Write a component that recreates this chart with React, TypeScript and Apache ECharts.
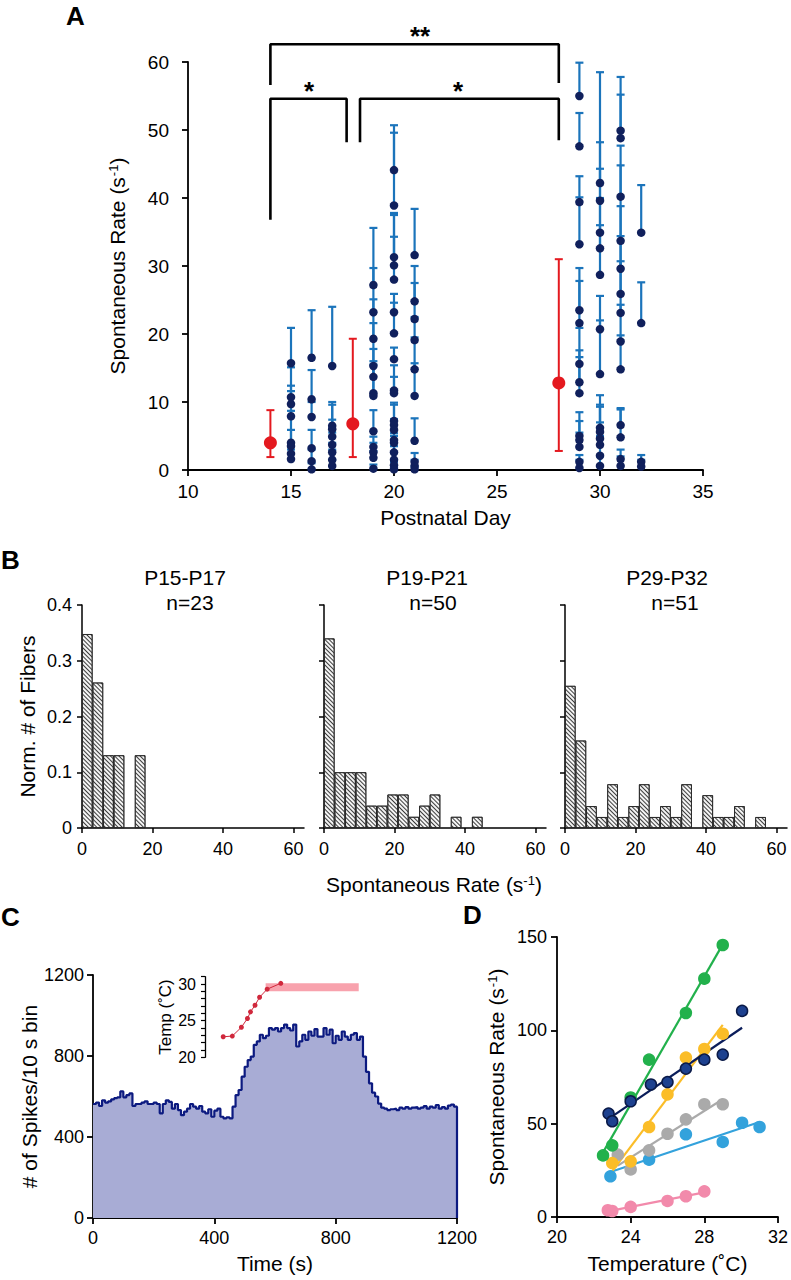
import React, { useEffect, useRef } from 'react';
import * as echarts from 'echarts';

const FONT = '"Liberation Sans", Arial, Helvetica, sans-serif';
const BLUE = '#1b74bb';
const NAVY_PT = '#10205c';
const RED = '#e4191f';

// ---------- Panel A ----------
const xTicksA = [10, 15, 20, 25, 30, 35];
const redDays = [14, 18, 28];
const redMeans = [4.0, 6.8, 12.8];
const redLow = [1.9, 1.9, 2.8];
const redHigh = [8.8, 19.3, 31.0];

// [postnatal day, rate, mean + SD]
const fibersP15to17 = [
  [15, 15.7, 20.9], [15, 10.7, 15.1], [15, 9.7, 12.4], [15, 7.9, 11.6], [15, 4.0, 8.7], [15, 3.5, 5.9], [15, 2.4, 4.0], [15, 1.6, 3.0],
  [16, 16.5, 23.5], [16, 10.4, 14.7], [16, 7.8, 10.0], [16, 3.2, 5.9], [16, 1.3, 3.0], [16, 0.1, 1.0],
  [17, 15.3, 24.0], [17, 6.5, 10.0], [17, 6.0, 9.6], [17, 4.9, 7.4], [17, 3.7, 5.5], [17, 2.6, 4.0], [17, 1.5, 3.0], [17, 0.6, 1.5],
];
const fibersP19to21 = [
  [19, 27.2, 35.6], [19, 23.2, 29.7], [19, 19.3, 25.1], [19, 15.3, 21.6], [19, 13.7, 17.8], [19, 11.3, 16.0], [19, 10.9, 15.5], [19, 5.7, 8.8], [19, 3.4, 4.9], [19, 2.6, 4.0], [19, 1.8, 2.8], [19, 0.2, 0.8],
  [20, 44.1, 50.7], [20, 38.9, 49.6], [20, 31.3, 37.8], [20, 30.1, 37.5], [20, 28.0, 34.3], [20, 23.2, 25.9], [20, 20.1, 24.6], [20, 16.3, 18.0], [20, 11.7, 15.4], [20, 11.3, 13.7], [20, 7.2, 9.9], [20, 6.6, 9.6], [20, 5.9, 7.5], [20, 4.4, 5.4], [20, 4.0, 5.0], [20, 2.6, 3.5], [20, 1.5, 2.5], [20, 0.7, 1.2], [20, 0.1, 0.5],
  [21, 31.6, 38.4], [21, 24.8, 30.0], [21, 22.2, 27.5], [21, 19.1, 22.5], [21, 14.8, 19.5], [21, 10.9, 15.7], [21, 4.3, 7.6], [21, 1.2, 2.5], [21, 0.6, 1.5], [21, 0.1, 0.5],
];
const fibersP29to32 = [
  [29, 55.0, 59.9], [29, 47.6, 52.5], [29, 39.4, 43.2], [29, 33.2, 40.1], [29, 23.5, 29.7], [29, 21.6, 27.8], [29, 15.6, 20.9], [29, 12.9, 17.6], [29, 11.3, 16.6], [29, 5.0, 8.5], [29, 4.4, 7.2], [29, 3.4, 5.5], [29, 1.2, 2.2], [29, 0.3, 1.5],
  [30, 42.2, 58.5], [30, 39.6, 48.2], [30, 34.9, 44.3], [30, 32.6, 40.0], [30, 28.7, 36.0], [30, 20.7, 25.6], [30, 14.1, 22.0], [30, 6.2, 11.0], [30, 5.6, 9.6], [30, 4.6, 9.3], [30, 3.7, 7.0], [30, 2.1, 5.0], [30, 0.6, 2.0],
  [31, 49.9, 57.8], [31, 48.8, 55.2], [31, 40.2, 47.7], [31, 33.7, 44.8], [31, 29.6, 38.8], [31, 25.9, 34.4], [31, 23.1, 30.7], [31, 18.9, 24.3], [31, 14.8, 19.8], [31, 6.6, 9.1], [31, 4.8, 8.9], [31, 1.6, 3.0], [31, 0.6, 2.0],
  [32, 34.9, 41.9], [32, 21.6, 27.6], [32, 1.2, 2.2], [32, 0.5, 1.5],
];
// significance brackets, in axis units [day, rate]
const bracketAll = [[14, 56.6], [14, 62.6], [28, 62.6], [28, 56.9]];
const bracketEarly = [[14, 36.8], [14, 54.6], [17.7, 54.6], [17.7, 48.2]];
const bracketLate = [[18.35, 48.2], [18.35, 54.6], [28, 54.6], [28, 48.5]];

// ---------- Panel B ----------
const histBinWidth = 3;
const histTitles = ['P15-P17', 'P19-P21', 'P29-P32'];
const countsP15to17 = [8, 6, 3, 3, 0, 3];
const countsP19to21 = [17, 5, 5, 5, 2, 2, 3, 3, 1, 2, 3, 0, 1, 0, 1];
const countsP29to32 = [13, 8, 2, 1, 4, 1, 2, 4, 1, 2, 1, 4, 0, 3, 1, 1, 2, 0, 1];
const histXTicks = [0, 20, 40, 60];

// ---------- Panel C ----------
const spikeBinSec = 10;
const spikeCounts = [
  563, 570, 553, 581, 570, 576, 586, 592, 596, 625,
  596, 607, 615, 553, 563, 563, 570, 576, 563, 563,
  570, 563, 517, 563, 581, 573, 540, 563, 533, 508,
  525, 540, 563, 550, 540, 553, 525, 517, 537, 500,
  530, 540, 500, 492, 497, 492, 550, 607, 632, 698,
  747, 780, 797, 855, 872, 905, 888, 900, 938, 930,
  938, 921, 938, 955, 938, 926, 955, 847, 872, 905,
  880, 921, 900, 933, 896, 896, 938, 905, 930, 863,
  900, 880, 921, 896, 880, 905, 913, 880, 896, 797,
  722, 665, 619, 600, 565, 545, 540, 533, 537, 540,
  533, 545, 540, 548, 540, 545, 548, 540, 545, 552,
  540, 550, 545, 558, 540, 548, 540, 555, 560, 550,
];
const tempTimes = [430, 460, 490, 510, 520, 535, 550, 575, 620];
const tempValues = [22.8, 22.9, 24.1, 25.3, 26.2, 27.1, 28.2, 29.3, 30.1];
const heatStart = 570;
const heatEnd = 877;
const heatLow = 29.0;
const heatHigh = 30.1;
const insetTicks = [20, 21, 22, 23, 24, 25, 26, 27, 28, 29, 30, 31];
const insetLabels = [20, 25, 30];

// ---------- Panel D ----------
const greenT = [22.5, 23.0, 24.0, 25.0, 27.0, 28.0, 29.0];
const greenR = [33, 38.4, 64, 84.3, 109.3, 127.7, 145.7];
const navyT = [22.8, 23.0, 24.0, 25.1, 26.0, 27.0, 28.0, 29.0, 30.05];
const navyR = [55.4, 51.3, 62, 71, 72.3, 79.5, 84.3, 87, 110.4];
const yellowT = [23.0, 24.0, 25.0, 26.0, 27.0, 28.0, 29.0];
const yellowR = [28.9, 29.8, 48.2, 65.7, 85.4, 90, 98.2];
const grayT = [23.3, 24.0, 25.0, 26.0, 27.0, 28.0, 29.0];
const grayR = [33.4, 25.5, 35.7, 44.6, 52.3, 60.4, 60.4];
const cyanT = [22.9, 25.0, 27.0, 29.0, 30.05, 31.0];
const cyanR = [21.8, 30.7, 44.3, 40.2, 50.5, 48.2];
const pinkT = [22.76, 23.0, 24.0, 26.0, 27.0, 28.0];
const pinkR = [3.6, 3.2, 5.4, 8.6, 11.1, 13.75];

function fitLine(xs: number[], ys: number[]) {
  const n = xs.length;
  const mx = xs.reduce((a, b) => a + b, 0) / n;
  const my = ys.reduce((a, b) => a + b, 0) / n;
  let sxy = 0, sxx = 0;
  for (let i = 0; i < n; i++) { sxy += (xs[i] - mx) * (ys[i] - my); sxx += (xs[i] - mx) ** 2; }
  const b = sxy / sxx;
  const a = my - b * mx;
  const x0 = Math.min(...xs), x1 = Math.max(...xs);
  return [[x0, a + b * x0], [x1, a + b * x1]];
}

const LABEL = { color: '#000', fontSize: 18, fontFamily: FONT };
const TITLE = { color: '#000', fontSize: 21, fontFamily: FONT };
const supRich = { sup: { fontSize: 13, verticalAlign: 'top', color: '#000', fontFamily: FONT, padding: [0, 0, 0, 1] } };
const plain = (v: number) => String(v);

function axis(gridIndex: number, extra: any) {
  const { axisLabel, axisTick, axisLine, nameTextStyle, ...rest } = extra;
  return {
    type: 'value',
    gridIndex,
    splitLine: { show: false },
    axisLine: { show: true, onZero: false, lineStyle: { color: '#000', width: 1.8 }, ...(axisLine || {}) },
    axisTick: { show: true, inside: false, length: 6, lineStyle: { color: '#000', width: 1.8 }, ...(axisTick || {}) },
    axisLabel: { ...LABEL, formatter: plain, ...(axisLabel || {}) },
    nameLocation: 'middle',
    nameTextStyle: { ...TITLE, rich: supRich, ...(nameTextStyle || {}) },
    ...rest,
  };
}

function buildOption() {
  const errBarRender = (params: any, api: any) => {
    const x = api.value(0), y = api.value(1), hi = api.value(2);
    const p0 = api.coord([x, y]);
    const p1 = api.coord([x, hi]);
    return {
      type: 'group',
      children: [
        { type: 'line', shape: { x1: p0[0], y1: p0[1], x2: p1[0], y2: p1[1] }, style: { stroke: BLUE, lineWidth: 2.2 } },
        { type: 'line', shape: { x1: p1[0] - 4, y1: p1[1], x2: p1[0] + 4, y2: p1[1] }, style: { stroke: BLUE, lineWidth: 2.2 } },
      ],
    };
  };
  const redRender = (params: any, api: any) => {
    const x = api.value(0), lo = api.value(2), hi = api.value(3);
    const a = api.coord([x, lo]);
    const b = api.coord([x, hi]);
    return {
      type: 'group',
      children: [
        { type: 'line', shape: { x1: a[0], y1: a[1], x2: b[0], y2: b[1] }, style: { stroke: RED, lineWidth: 2 } },
        { type: 'line', shape: { x1: a[0] - 4, y1: a[1], x2: a[0] + 4, y2: a[1] }, style: { stroke: RED, lineWidth: 2 } },
        { type: 'line', shape: { x1: b[0] - 4, y1: b[1], x2: b[0] + 4, y2: b[1] }, style: { stroke: RED, lineWidth: 2 } },
      ],
    };
  };
  const allFibers = [...fibersP15to17, ...fibersP19to21, ...fibersP29to32];
  const redData = redDays.map((d, i) => [d, redMeans[i], redLow[i], redHigh[i]]);

  const bracketSeries = [bracketAll, bracketEarly, bracketLate].map((b) => ({
    type: 'line', xAxisIndex: 0, yAxisIndex: 0, data: b, clip: false, symbol: 'none', silent: true,
    lineStyle: { color: '#000', width: 2.6 }, z: 5,
  }));

  const histCounts = [countsP15to17, countsP19to21, countsP29to32];
  const histSeries = histCounts.map((counts, gi) => {
    const n = counts.reduce((a, b) => a + b, 0);
    const data = counts
      .map((c, i) => [i * histBinWidth + histBinWidth / 2, c / n])
      .filter((d) => d[1] > 0);
    return {
      type: 'bar', xAxisIndex: 1 + gi, yAxisIndex: 1 + gi, data, barWidth: 10.6,
      itemStyle: {
        color: '#f4f4f4', borderColor: '#222', borderWidth: 0.8,
        decal: { symbol: 'rect', symbolSize: 1, color: '#3c3c3c', dashArrayX: [1, 0], dashArrayY: [1, 1.6], rotation: Math.PI / 4 },
      },
    };
  });

  const spikeData: number[][] = spikeCounts.map((v, i) => [i * spikeBinSec, v]);
  spikeData.push([spikeCounts.length * spikeBinSec, spikeCounts[spikeCounts.length - 1]]);
  spikeData.push([spikeCounts.length * spikeBinSec, 0]);

  const dSets = [
    { t: pinkT, r: pinkR, color: '#f28aab', border: '#f28aab' },
    { t: cyanT, r: cyanR, color: '#33a2dc', border: '#33a2dc' },
    { t: grayT, r: grayR, color: '#aaaaaa', border: '#aaaaaa' },
    { t: yellowT, r: yellowR, color: '#fbbd28', border: '#fbbd28' },
    { t: greenT, r: greenR, color: '#22b14c', border: '#22b14c' },
    { t: navyT, r: navyR, color: '#1d418f', border: '#0a1a48', line: '#0b1d5a' },
  ];
  const dSeries: any[] = [];
  dSets.forEach((s) => {
    dSeries.push({
      type: 'line', xAxisIndex: 6, yAxisIndex: 6, data: fitLine(s.t, s.r), symbol: 'none',
      lineStyle: { color: (s as any).line || s.color, width: 2.2 }, z: 3,
    });
  });
  dSets.forEach((s) => {
    dSeries.push({
      type: 'scatter', xAxisIndex: 6, yAxisIndex: 6, data: s.t.map((t, i) => [t, s.r[i]]), symbolSize: 11,
      itemStyle: { color: s.color, borderColor: s.border, borderWidth: 1.5, opacity: 1 }, z: 4,
    });
  });

  const histGrids = [82, 324, 565].map((left) => ({ left, top: 605, width: 222, height: 223 }));

  return {
    animation: false,
    backgroundColor: '#fff',
    textStyle: { fontFamily: FONT, color: '#000' },
    grid: [
      { left: 188, top: 62, width: 515, height: 408 },
      ...histGrids,
      { left: 93, top: 975, width: 364, height: 243 },
      { left: 205, top: 976.7, width: 160.7, height: 80.6 },
      { left: 557, top: 937, width: 222, height: 280 },
    ],
    xAxis: [
      axis(0, { min: 10, max: 35, interval: 5, name: 'Postnatal Day', nameGap: 37, axisLabel: { margin: 12, fontSize: 19, customValues: xTicksA } }),
      ...[0, 1, 2].map((i) => axis(1 + i, {
        min: 0, max: 63,
        axisTick: { customValues: histXTicks, length: 5, lineStyle: { color: '#000', width: 1.5 } },
        axisLabel: { customValues: histXTicks, margin: 12 },
        axisLine: { lineStyle: { color: '#000', width: 1.5 } },
      })),
      axis(4, { min: 0, max: 1200, interval: 400, name: 'Time (s)', nameGap: 35, axisLabel: { margin: 11 } }),
      axis(5, { min: 370, max: 900, show: false }),
      axis(6, { min: 20, max: 32, interval: 4, name: 'Temperature (˚C)', nameGap: 36, axisLabel: { margin: 11 } }),
    ],
    yAxis: [
      axis(0, { min: 0, max: 60, interval: 10, name: 'Spontaneous Rate (s{sup|-1})', nameGap: 60, axisLabel: { margin: 19, fontSize: 19 } }),
      ...[0, 1, 2].map((i) => axis(1 + i, {
        min: 0, max: 0.4, interval: 0.1,
        name: i === 0 ? 'Norm. # of Fibers' : '', nameGap: 44,
        axisTick: { length: 5, lineStyle: { color: '#000', width: 1.5 } },
        axisLine: { lineStyle: { color: '#000', width: 1.5 } },
        axisLabel: { show: i === 0, margin: 10 },
      })),
      axis(4, { min: 0, max: 1200, interval: 400, name: '# of Spikes/10 s bin', nameGap: 52, axisLabel: { margin: 9 } }),
      axis(5, {
        min: 20, max: 31, name: 'Temp (˚C)', nameGap: 30,
        nameTextStyle: { fontSize: 17 },
        axisLine: { lineStyle: { color: '#000', width: 1.3 } },
        axisTick: { customValues: insetTicks, length: 4, lineStyle: { color: '#000', width: 1.2 } },
        axisLabel: { customValues: insetLabels, fontSize: 16, margin: 9 },
      }),
      axis(6, { min: 0, max: 150, interval: 50, name: 'Spontaneous Rate (s{sup|-1})', nameGap: 50, axisLabel: { margin: 10 } }),
    ],
    series: [
      ...bracketSeries,
      {
        type: 'custom', xAxisIndex: 0, yAxisIndex: 0, data: allFibers, renderItem: errBarRender,
        encode: { x: 0, y: [1, 2] }, z: 2,
      },
      {
        type: 'scatter', xAxisIndex: 0, yAxisIndex: 0, data: allFibers.map((f) => [f[0], f[1]]),
        symbolSize: 8.5, itemStyle: { color: NAVY_PT, opacity: 1 }, z: 3,
      },
      {
        type: 'custom', xAxisIndex: 0, yAxisIndex: 0, data: redData, renderItem: redRender,
        encode: { x: 0, y: [1, 2, 3] }, z: 2,
      },
      {
        type: 'scatter', xAxisIndex: 0, yAxisIndex: 0, data: redData.map((d) => [d[0], d[1]]),
        symbolSize: 13, itemStyle: { color: RED, opacity: 1 }, z: 3,
      },
      ...histSeries,
      {
        type: 'line', xAxisIndex: 4, yAxisIndex: 4, data: spikeData, step: 'end', symbol: 'none',
        lineStyle: { color: '#0c1a80', width: 2.2 }, areaStyle: { color: '#a8acd5', opacity: 1 },
      },
      {
        type: 'line', xAxisIndex: 5, yAxisIndex: 5, data: tempTimes.map((t, i) => [t, tempValues[i]]),
        symbol: 'circle', symbolSize: 5, showSymbol: true,
        lineStyle: { color: '#d0283c', width: 1 }, itemStyle: { color: '#d0283c' }, z: 4,
        markArea: {
          silent: true,
          itemStyle: { color: '#f8a2ad', opacity: 1 },
          data: [[{ xAxis: heatStart, yAxis: heatLow }, { xAxis: heatEnd, yAxis: heatHigh }]],
        },
      },
      ...dSeries,
    ],
    graphic: [
      { type: 'text', left: 66, top: 3, style: { text: 'A', font: `bold 26px ${FONT}`, fill: '#000' } },
      { type: 'text', left: 1, top: 547, style: { text: 'B', font: `bold 26px ${FONT}`, fill: '#000' } },
      { type: 'text', left: 1, top: 904, style: { text: 'C', font: `bold 26px ${FONT}`, fill: '#000' } },
      { type: 'text', left: 463, top: 902, style: { text: 'D', font: `bold 26px ${FONT}`, fill: '#000' } },
      { type: 'text', x: 420, y: 36, style: { text: '**', font: `bold 26px ${FONT}`, fill: '#000', align: 'center', verticalAlign: 'middle' } },
      { type: 'text', x: 309, y: 91, style: { text: '*', font: `bold 26px ${FONT}`, fill: '#000', align: 'center', verticalAlign: 'middle' } },
      { type: 'text', x: 458, y: 91, style: { text: '*', font: `bold 26px ${FONT}`, fill: '#000', align: 'center', verticalAlign: 'middle' } },
      ...histTitles.map((t, i) => ({
        type: 'text', x: [185, 427, 667][i], y: 577,
        style: { text: t, font: `21px ${FONT}`, fill: '#000', align: 'center', verticalAlign: 'middle' },
      })),
      ...histCounts.map((c, i) => ({
        type: 'text', x: [190, 433, 675][i], y: 602,
        style: { text: 'n=' + c.reduce((a, b) => a + b, 0), font: `21px ${FONT}`, fill: '#000', align: 'center', verticalAlign: 'middle' },
      })),
      {
        type: 'text', x: 434, y: 884,
        style: {
          text: 'Spontaneous Rate (s{sup|-1})', font: `21px ${FONT}`, fill: '#000', align: 'center', verticalAlign: 'middle',
          rich: { sup: { font: `13px ${FONT}`, fill: '#000', verticalAlign: 'top' } },
        },
      },
    ],
  };
}

export default function App() {
  const ref = useRef<HTMLDivElement>(null);
  useEffect(() => {
    const chart = echarts.init(ref.current!, null, { renderer: 'svg' });
    chart.setOption(buildOption() as any);
    return () => chart.dispose();
  }, []);
  return (
    <div
      ref={ref}
      style={{ position: 'absolute', left: 0, top: 0, width: 791, height: 1280, background: '#fff' }}
    />
  );
}
